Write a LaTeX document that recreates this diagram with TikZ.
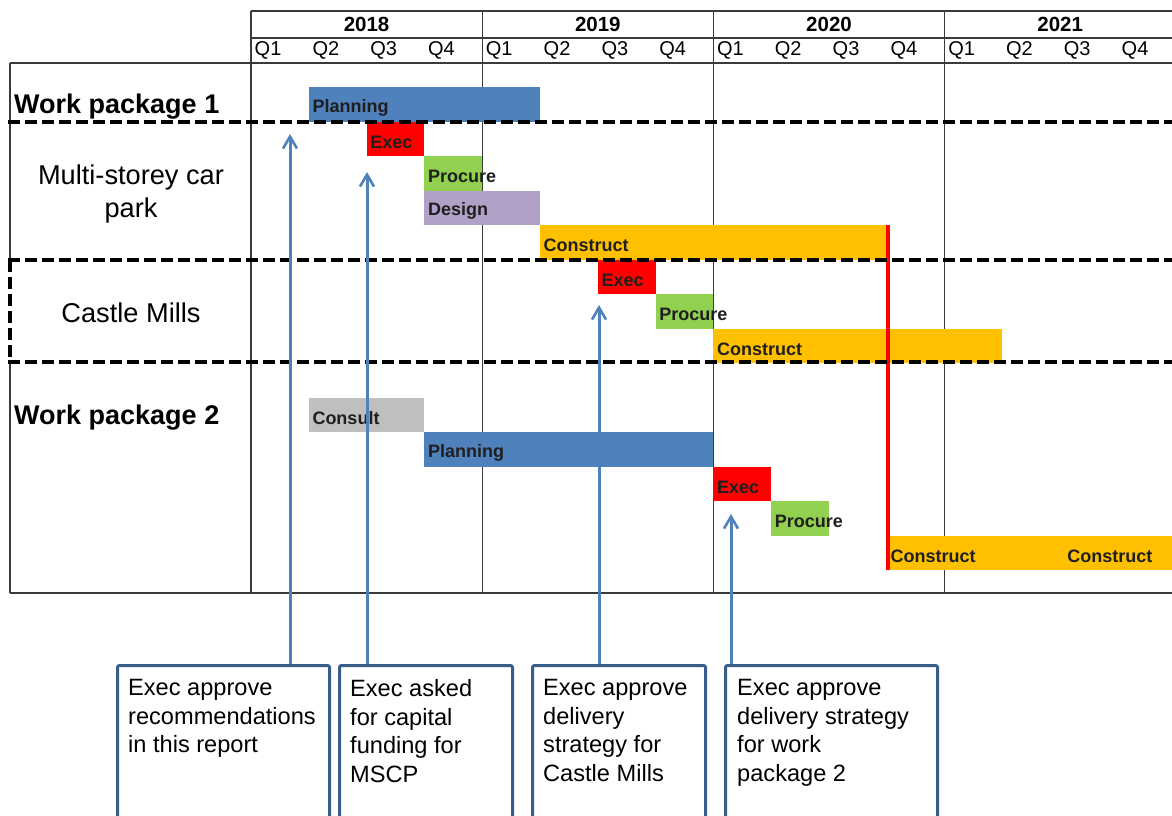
\documentclass[tikz,border=0pt]{standalone}
\usepackage{fontspec}
\setmainfont{Liberation Sans}
\usetikzlibrary{arrows.meta,calc}

\definecolor{planblue}{HTML}{4F81BD}
\definecolor{execred}{HTML}{FF0000}
\definecolor{procgreen}{HTML}{92D050}
\definecolor{designpurple}{HTML}{B1A0C7}
\definecolor{constyellow}{HTML}{FFC000}
\definecolor{consultgrey}{HTML}{BFBFBF}
\definecolor{gridgrey}{HTML}{3A3A3A}
\definecolor{boxblue}{HTML}{385D8A}
\definecolor{arrowblue}{HTML}{4F81BD}

% quarter width and row pitch of the chart
\def\qw{57.8}
\def\rh{34.5}

% a coloured bar: name, first quarter, last quarter (exclusive), row, colour, label
\newcommand\gbar[6]{%
  \node[barbox, fill=#5, minimum width={(#3-#2)*\qw pt}] (#1) at ({251+\qw*#2},{87+\rh*#4}) {};
  \node[barlabel] (#1-t) at ([xshift=3.5pt,yshift=-3.5pt]#1.west) {#6};
}

\tikzset{
  gridline/.style={draw=gridgrey, line width=1.3pt},
  dashline/.style={draw=black, line width=3.5pt, dash pattern=on 12pt off 5pt},
  barbox/.style={rectangle, draw=none, inner sep=0pt, outer sep=0pt, anchor=north west, minimum height=\rh pt},
  barlabel/.style={anchor=west, inner sep=0pt, font=\fontsize{18}{20}\selectfont\bfseries, text=black!88},
  yearlabel/.style={font=\fontsize{20.5}{24}\selectfont\bfseries, inner sep=0pt},
  qlabel/.style={font=\fontsize{20}{24}\selectfont, anchor=west, inner sep=0pt},
  wplabel/.style={font=\fontsize{27}{31}\selectfont\bfseries, anchor=west, inner sep=0pt},
  rowlabel/.style={font=\fontsize{27.2}{33}\selectfont, align=center, inner sep=0pt},
  notebox/.style={rectangle, draw=boxblue, line width=3pt, rounded corners=2pt, anchor=north west, inner sep=0pt, minimum height=200pt},
  notetext/.style={anchor=north west, inner sep=0pt, align=left, font=\fontsize{23.6}{28.7}\selectfont},
  callout/.style={draw=arrowblue, line width=3pt, -{Straight Barb[length=12pt,width=14pt,line width=2.6pt]}},
  milestone/.style={draw=execred, line width=4pt},
}

\begin{document}
\begin{tikzpicture}[x=1pt,y=-1pt]
\useasboundingbox[fill=white] (0,0) rectangle (1172,815);

% ---- table frame and grid ----
\draw[gridline] (251,11) -- (1172,11);
\draw[gridline] (251,38) -- (1172,38);
\draw[gridline] (10,63) -- (1172,63);
\draw[gridline] (10,593) -- (1172,593);
\draw[gridline] (10,63) -- (10,260);
\draw[gridline] (10,362) -- (10,593);
\foreach \i in {0,1,2,3}
  \draw[gridline] ({251+4*\qw*\i},11) -- ({251+4*\qw*\i},593);

% ---- header: years and quarters ----
\foreach \yr [count=\i from 0] in {2018,2019,2020,2021}
  \node[yearlabel] (y\yr) at ({251+4*\qw*(\i+0.5)},24.5) {\yr};
\foreach \i in {0,...,15}{
  \pgfmathtruncatemacro\q{mod(\i,4)+1}
  \node[qlabel] (q\i) at ({251+\qw*\i+3.5},50.5) {Q\q};
}

% ---- row labels ----
\node[wplabel] (wp1) at (14,106.5) {Work package 1};
\node[rowlabel] (mscp) at (131,194) {Multi-storey car\\park};
\node[rowlabel] (castle) at (131,313) {Castle Mills};
\node[wplabel] (wp2) at (14,417.5) {Work package 2};

% ---- bars ----
\gbar{wpaplan}{1}{5}{0}{planblue}{Planning}
\gbar{mexec}{2}{3}{1}{execred}{Exec}
\gbar{mproc}{3}{4}{2}{procgreen}{Procure}
\gbar{mdes}{3}{5}{3}{designpurple}{Design}
\gbar{mcon}{5}{11}{4}{constyellow}{Construct}
\gbar{cexec}{6}{7}{5}{execred}{Exec}
\gbar{cproc}{7}{8}{6}{procgreen}{Procure}
\gbar{ccon}{8}{13}{7}{constyellow}{Construct}
\gbar{wbcons}{1}{3}{9}{consultgrey}{Consult}
\gbar{wbplan}{3}{8}{10}{planblue}{Planning}
\gbar{wbexec}{8}{9}{11}{execred}{Exec}
\gbar{wbproc}{9}{10}{12}{procgreen}{Procure}
\gbar{wbcon}{11}{15.94}{13}{constyellow}{Construct}
\node[barlabel] (wbcon-t2) at ([xshift={3*\qw pt+3.5pt}]wbcon-t.west) {Construct};

% ---- milestone line ----
\draw[milestone] ([xshift=1pt]mcon.north east) -- ([xshift=1pt]mcon.north east |- wbcon.south);

% ---- dashed separators ----
\draw[dashline] (8,122) -- (1172,122);
\draw[dashline] (8,260) -- (1172,260);
\draw[dashline] (8,362) -- (1172,362);
\draw[dashline] (10,260) -- (10,362);

% ---- note boxes ----
\node[notebox, minimum width=212pt] (n1) at (116,664) {};
\node[notebox, minimum width=173pt] (n2) at (338,664) {};
\node[notebox, minimum width=173pt] (n3) at (531,664) {};
\node[notebox, minimum width=212pt] (n4) at (724,664) {};

\node[notetext] (n1t) at (128,679) {Exec approve\\recommendations\\in this report};
\node[notetext] (n2t) at (350,679) {Exec asked\\for capital\\funding for\\MSCP};
\node[notetext] (n3t) at (543,679) {Exec approve\\delivery\\strategy for\\Castle Mills};
\node[notetext] (n4t) at (737,679) {Exec approve\\delivery strategy\\for work\\package 2};

% ---- callout arrows ----
\coordinate (a1) at (290,134);
\coordinate (a2) at (367,172);
\coordinate (a3) at (599,305);
\coordinate (a4) at (731,514);
\draw[callout] (n1.north -| a1) -- (a1);
\draw[callout] (n2.north -| a2) -- (a2);
\draw[callout] (n3.north -| a3) -- (a3);
\draw[callout] (n4.north -| a4) -- (a4);
\end{tikzpicture}
\end{document}
